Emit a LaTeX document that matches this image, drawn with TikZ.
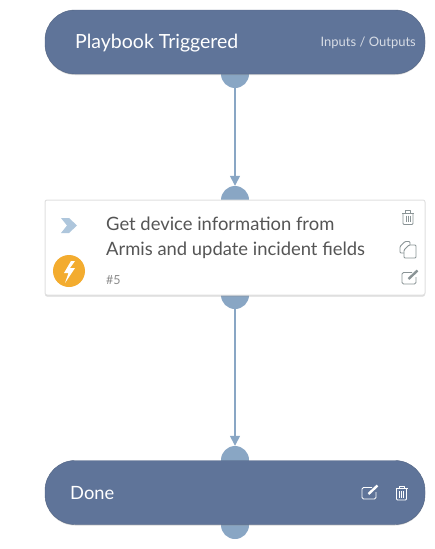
\documentclass[tikz,border=0pt]{standalone}
\usepackage{fontspec}
\setmainfont{Lato}
\usetikzlibrary{shadows,arrows.meta}
\definecolor{pillblue}{HTML}{5F7499}
\definecolor{dotblue}{HTML}{89A6C4}
\definecolor{chevblue}{HTML}{AEC6DC}
\definecolor{boltorange}{HTML}{F3AC2F}
\definecolor{textgrey}{HTML}{555555}
\definecolor{icongrey}{HTML}{8A9496}
\tikzset{
  pill/.style={draw=pillblue!85!black, fill=pillblue, rounded corners=30pt, minimum width=380pt, minimum height=64pt, inner sep=0pt, drop shadow={shadow xshift=0pt, shadow yshift=-1pt, opacity=0.3}},
  card/.style={draw=black!12, line width=1pt, fill=white, rounded corners=2pt, minimum width=380pt, minimum height=95pt, inner sep=0pt, drop shadow={shadow xshift=0pt, shadow yshift=-1.5pt, opacity=0.3}},
  portdot/.style={circle, fill=dotblue, minimum size=28pt, inner sep=0pt},
  link/.style={draw=dotblue, line width=1.4pt, -{Triangle[length=10pt,width=10pt]}},
  title/.style={anchor=west, text=white, font=\fontsize{19.5}{23}\selectfont, inner sep=0pt},
  tasktext/.style={anchor=west, text=textgrey, font=\fontsize{18.4}{25}\selectfont, align=left, inner sep=0pt},
}
% small icons, #1 = colour
\newcommand{\trashicon}[2]{
\begin{scope}[shift={#1}, draw=#2, line width=0.9pt, line join=round]
\draw (-6,-4.5) -- (6,-4.5);
\draw (-2.5,-4.5) -- (-2.5,-7) -- (2.5,-7) -- (2.5,-4.5);
\draw[rounded corners=1pt] (-5,-4.5) -- (-5,7) -- (5,7) -- (5,-4.5);
\draw (-2,-2) -- (-2,4.5);
\draw (0,-2) -- (0,4.5);
\draw (2,-2) -- (2,4.5);
\end{scope}}
\newcommand{\editicon}[2]{
\begin{scope}[shift={#1}, draw=#2, line width=0.9pt, line join=round]
\draw[rounded corners=1.5pt] (2,-5) -- (-8,-5) -- (-8,6.5) -- (6,6.5) -- (6,-0.5);
\draw[line width=2.4pt] (-1.5,1.5) -- (7.5,-7);
\end{scope}}
\begin{document}
\begin{tikzpicture}[x=1pt,y=-1pt]
\useasboundingbox (0,0) rectangle (435,549);
% ports
\node[portdot] (trigout) at (235,74) {};
\node[portdot] (taskin) at (235,200) {};
\node[portdot] (taskout) at (235,295) {};
\node[portdot] (donein) at (235,460) {};
\node[portdot] (doneout) at (235,525) {};
% links
\draw[link] (trigout) -- (taskin);
\draw[link] (taskout) -- (donein);
% boxes
\node[pill] (trigger) at (235,42) {};
\node[card] (task) at (235,247.5) {};
\node[pill] (done) at (235,492.5) {};
% texts
\node[title] (trigtitle) at (75,43) {Playbook Triggered};
\node[anchor=east, text=white!75!pillblue, font=\fontsize{13}{15}\selectfont, inner sep=0pt] (inout) at (416,43) {Inputs / Outputs};
\node[tasktext] (tasktitle) at (106,238) {Get device information from\\Armis and update incident fields};
\node[anchor=west, text=black!45, font=\fontsize{12.5}{14}\selectfont, inner sep=0pt] (tasknum) at (106,280) {\#5};
\node[title, font=\fontsize{18.3}{22}\selectfont] (donetitle) at (70,493) {Done};
% task icons
\fill[chevblue] (61,218) -- (69,218) -- (77,225.5) -- (69,233) -- (61,233) -- (67,225.5) -- cycle;
\node[circle, fill=boltorange, minimum size=32pt, inner sep=0pt] (bolt) at (69,271) {};
\fill[white] (71,261) -- (64,273) -- (68.5,273) -- (65,283) -- (75,268) -- (70,268) -- (75,261) -- cycle;
\trashicon{(408,217.5)}{icongrey}
\begin{scope}[draw=icongrey, line width=0.9pt, line join=round]
\draw[rounded corners=1pt] (404,253) -- (400,253) -- (400,246.5) -- (405,241.5) -- (410,241.5) -- (410,245);
\draw[rounded corners=1pt] (404,250) -- (409,245) -- (416,245) -- (416,258) -- (404,258) -- cycle;
\end{scope}
\editicon{(410,277.5)}{icongrey}
% done icons
\editicon{(370,492.5)}{white}
\trashicon{(401.5,493)}{white}
\end{tikzpicture}
\end{document}
